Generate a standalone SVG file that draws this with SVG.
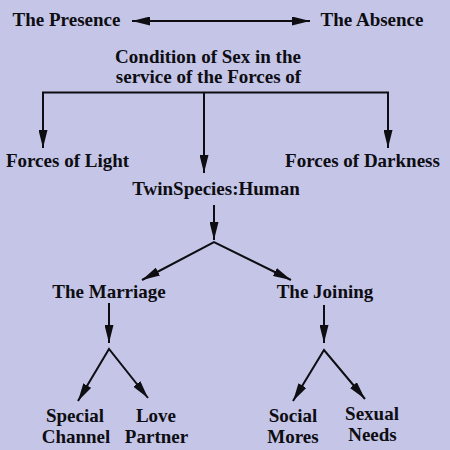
<svg xmlns="http://www.w3.org/2000/svg" width="450" height="450" viewBox="0 0 450 450">
<style>
text{font-family:"Liberation Serif","Times New Roman",serif;font-weight:bold;font-size:19px;fill:#0d0d12;text-anchor:middle}
.c{stroke:#0d0d12;stroke-width:2;fill:none}
.a{marker-end:url(#ah)}
</style>
<defs>
<marker id="ah" markerUnits="userSpaceOnUse" markerWidth="18" markerHeight="9" refX="18" refY="4.5" orient="auto-start-reverse" viewBox="0 0 18 9">
<path d="M0,0 L18,4.5 L0,9 Z" fill="#0d0d12"/>
</marker>
</defs>
<rect width="450" height="450" fill="#c5c5e7"/>
<g id="connectors">
<line class="c" x1="132" y1="21" x2="310" y2="21" marker-start="url(#ah)" marker-end="url(#ah)"/>
<polyline class="c" points="43,148 43,92.5 388,92.5 388,148" marker-start="url(#ah)" marker-end="url(#ah)"/>
<line class="c a" x1="204" y1="92.5" x2="204" y2="173"/>
<line class="c a" x1="214" y1="205" x2="214" y2="240"/>
<polyline class="c" points="142,280 214,242 291,280" marker-start="url(#ah)" marker-end="url(#ah)"/>
<line class="c a" x1="109" y1="303" x2="109" y2="343"/>
<polyline class="c" points="78,401 109,349 148,398" marker-start="url(#ah)" marker-end="url(#ah)"/>
<line class="c a" x1="324" y1="305" x2="324" y2="343"/>
<polyline class="c" points="293,401 324,350 365,399" marker-start="url(#ah)" marker-end="url(#ah)"/>
</g>
<g id="presence"><text x="66.5" y="26">The Presence</text></g>
<g id="absence"><text x="372" y="26">The Absence</text></g>
<g id="condition"><text x="208" y="63">Condition of Sex in the</text><text x="208.5" y="83">service of the Forces of</text></g>
<g id="light"><text x="67.5" y="166.5">Forces of Light</text></g>
<g id="darkness"><text x="362.5" y="166.5">Forces of Darkness</text></g>
<g id="twinspecies"><text x="216" y="195">TwinSpecies:Human</text></g>
<g id="marriage"><text x="109" y="297.5">The Marriage</text></g>
<g id="joining"><text x="325" y="297.5">The Joining</text></g>
<g id="special"><text x="75" y="422">Special</text><text x="76" y="442.5">Channel</text></g>
<g id="love"><text x="156" y="422">Love</text><text x="156.5" y="443">Partner</text></g>
<g id="social"><text x="293" y="421.5">Social</text><text x="293" y="443">Mores</text></g>
<g id="sexual"><text x="372" y="420">Sexual</text><text x="372.5" y="441">Needs</text></g>
</svg>
